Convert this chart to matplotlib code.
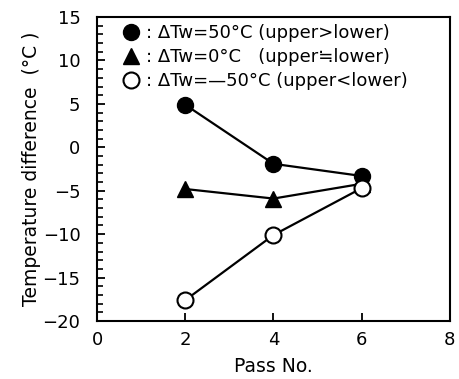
import matplotlib
matplotlib.use("Agg")
import matplotlib.pyplot as plt
from matplotlib.ticker import MultipleLocator

plt.rcParams['font.family'] = ['DejaVu Sans']

passes = [2, 4, 6]
dtw_pos50 = [4.9, -1.9, -3.3]
dtw_zero = [-4.8, -5.9, -4.2]
dtw_neg50 = [-17.6, -10.1, -4.7]

labels = [": \u0394Tw=50\u00b0C (upper>lower)",
          ": \u0394Tw=0\u00b0C   (upper\u2252lower)",
          ": \u0394Tw=\u201450\u00b0C (upper<lower)"]

fig = plt.figure(figsize=(4.6, 3.79), dpi=100)
ax = fig.add_axes([0.211, 0.153, 0.767, 0.802])

ax.plot(passes, dtw_pos50, color='black', lw=1.6, marker='o', ms=11.5,
        mfc='black', mec='black', label=labels[0], zorder=3)
ax.plot(passes, dtw_zero, color='black', lw=1.6, marker='^', ms=11.5,
        mfc='black', mec='black', label=labels[1], zorder=2)
ax.plot(passes, dtw_neg50, color='black', lw=1.6, marker='o', ms=11.5,
        mfc='white', mec='black', mew=1.5, label=labels[2], zorder=3)

ax.set_xlim(0, 8)
ax.set_ylim(-20, 15)
ax.xaxis.set_major_locator(MultipleLocator(2))
ax.yaxis.set_major_locator(MultipleLocator(5))
ax.yaxis.set_minor_locator(MultipleLocator(1))
ax.tick_params(axis='both', which='major', direction='in', length=6, width=1.3,
               labelsize=13)
ax.tick_params(axis='x', which='major', pad=7)
ax.tick_params(axis='y', which='major', pad=12)
ax.tick_params(axis='y', which='minor', direction='in', length=4, width=1.2)
ax.tick_params(top=False, right=False)
for s in ax.spines.values():
    s.set_linewidth(1.5)

ax.set_xlabel("Pass No.", fontsize=13.5, labelpad=6)
ax.set_ylabel("Temperature difference  (\u00b0C )", fontsize=13.5)
ax.yaxis.set_label_coords(-0.158, 0.5)

leg = ax.legend(loc='upper left', frameon=False, fontsize=13, handlelength=0.9,
                handletextpad=0.35, labelspacing=0.32, borderaxespad=0.0,
                bbox_to_anchor=(0.054, 1.0))
for line in leg.get_lines():
    line.set_linestyle('none')

fig.savefig("out.png", dpi=100)
